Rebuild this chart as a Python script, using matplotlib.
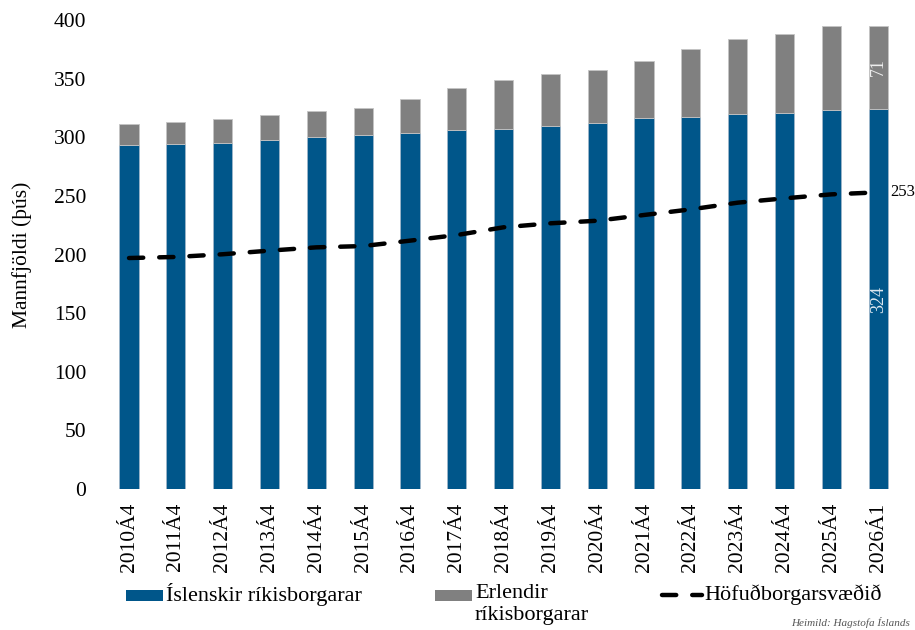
import matplotlib
matplotlib.use("Agg")
import matplotlib.pyplot as plt
from matplotlib.patches import Rectangle
from matplotlib.lines import Line2D
import numpy as np

plt.rcParams['font.family'] = ['Liberation Serif', 'DejaVu Serif']

# Population (thousands) by citizenship, end of year (Q4) and latest quarter
periods = ["2010Á4", "2011Á4", "2012Á4", "2013Á4", "2014Á4", "2015Á4", "2016Á4",
           "2017Á4", "2018Á4", "2019Á4", "2020Á4", "2021Á4", "2022Á4", "2023Á4",
           "2024Á4", "2025Á4", "2026Á1"]
icelandic = [293, 294, 295.4, 298, 300.5, 301.6, 303.9, 306.5, 307.3, 309.6, 312.4,
             316.4, 317.5, 320.1, 321, 323.6, 324]
foreign = [18.5, 18.7, 19.9, 21, 22.2, 23.6, 28.7, 35.5, 41.5, 44.4, 45,
           48.3, 57.5, 63.4, 67.3, 71, 71]
capital = [197, 197.9, 200.2, 203.3, 206.1, 207.2, 211.8, 216.6, 223.2, 226.6, 228.8,
           233.7, 238.5, 244.2, 247.9, 251.3, 253]

series_names = ["Íslenskir ríkisborgarar", "Erlendir\nríkisborgarar", "Höfuðborgarsvæðið"]
y_label = "Mannfjöldi (þús)"
source = "Heimild: Hagstofa Íslands"

BLUE = "#00568a"
GRAY = "#808080"

W, H = 915, 630
fig = plt.figure(figsize=(W / 100, H / 100), dpi=100)
ax = fig.add_axes([105.6 / W, (H - 489) / H, 796 / W, 469 / H])

x = np.arange(len(periods))
bw = 0.41
ax.bar(x, icelandic, width=bw, color=BLUE, edgecolor="#9db5c9", linewidth=0.6, zorder=2)
ax.bar(x, foreign, width=bw, bottom=icelandic, color=GRAY, edgecolor="#c4c4c4",
       linewidth=0.6, zorder=2)
ax.plot(x, capital, color="black", linewidth=3.2, dashes=(3.2, 3.6),
        solid_capstyle="round", dash_capstyle="round", zorder=3)

# Value labels for the latest period
last = len(periods) - 1
ax.text(last, icelandic[last] / 2, f"{icelandic[last]:.0f}", rotation=90, ha="center",
        va="center", color="#dfe8f0", fontsize=13, zorder=4)
ax.text(last, icelandic[last] + foreign[last] / 2, f"{foreign[last]:.0f}", rotation=90,
        ha="center", va="center", color="#eeeeee", fontsize=13, zorder=4)
ax.annotate(f"{capital[last]:.0f}", (last, capital[last]), xytext=(9, 0),
            textcoords="offset points", ha="left", va="center", fontsize=12)

ax.set_xlim(-0.5, len(periods) - 0.5)
ax.set_ylim(0, 400)
ax.set_yticks(np.arange(0, 401, 50))
ax.set_xticks(x)
ax.set_xticklabels(periods, rotation=90, fontsize=15.5)
ax.tick_params(axis="y", length=0, pad=14, labelsize=15.5)
ax.tick_params(axis="x", length=0, pad=10)
for s in ax.spines.values():
    s.set_visible(False)

fig.text(22 / W, 1 - 255 / H, y_label, rotation=90, ha="center", va="center", fontsize=15.5)

# Legend row below the axis labels
def px(xp, yp):
    return xp / W, 1 - yp / H

fig.add_artist(Rectangle(px(126, 601), 37 / W, 11 / H, transform=fig.transFigure,
                         facecolor=BLUE, edgecolor="none"))
fig.text(*px(166, 595), series_names[0], ha="left", va="center", fontsize=16)
fig.add_artist(Rectangle(px(435, 601), 37 / W, 11 / H, transform=fig.transFigure,
                         facecolor=GRAY, edgecolor="none"))
fig.text(*px(475, 584), series_names[1], ha="left", va="top", fontsize=16,
         linespacing=1.2)
fig.add_artist(Line2D([662 / W, 702 / W], [1 - 595 / H] * 2, transform=fig.transFigure,
                      color="black", linewidth=3.2, dashes=(3.2, 3.6),
                      dash_capstyle="round"))
fig.text(*px(704, 595), series_names[2], ha="left", va="center", fontsize=16)

fig.text(*px(791, 617), source, ha="left", va="top", fontsize=8, style="italic",
         color="#555555")

fig.savefig("out.png", dpi=100)
